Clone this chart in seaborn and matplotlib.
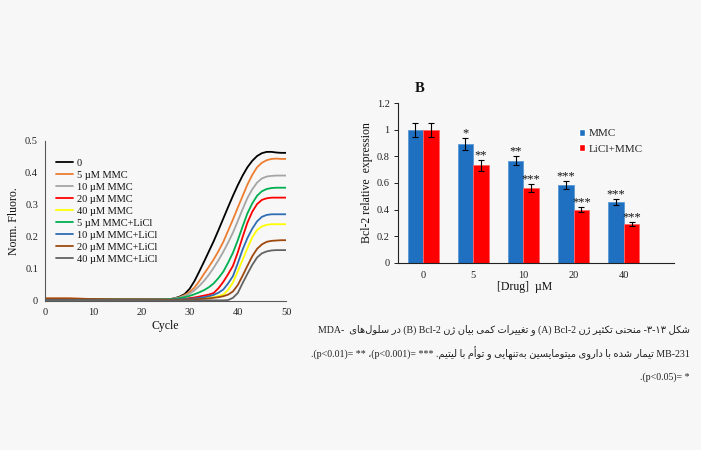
import matplotlib
matplotlib.use("Agg")
import matplotlib.pyplot as plt
import numpy as np
import pandas as pd
import seaborn as sns

# ---------------- data: panel A (amplification curves) ----------------
cycles = [0, 5, 10, 15, 20, 25, 26, 27, 28, 29, 30, 31, 32, 33, 34, 35, 36, 37, 38,
          39, 40, 41, 42, 43, 44, 45, 46, 47, 48, 49, 50]
fl_0 = [0.006, 0.005, 0.004, 0.004, 0.004, 0.005, 0.006, 0.009, 0.014, 0.022, 0.038, 0.062,
        0.092, 0.123, 0.155, 0.187, 0.222, 0.258, 0.294, 0.329, 0.362, 0.392, 0.418, 0.438,
        0.453, 0.462, 0.466, 0.466, 0.464, 0.463, 0.463]
fl_5mmc = [0.008, 0.008, 0.006, 0.005, 0.005, 0.005, 0.006, 0.008, 0.012, 0.019, 0.028, 0.042,
           0.062, 0.085, 0.107, 0.130, 0.156, 0.185, 0.220, 0.255, 0.292, 0.328, 0.364, 0.394,
           0.418, 0.432, 0.440, 0.444, 0.445, 0.444, 0.444]
fl_10mmc = [0.006, 0.006, 0.005, 0.005, 0.005, 0.005, 0.006, 0.008, 0.011, 0.016, 0.023, 0.033,
            0.047, 0.063, 0.082, 0.104, 0.128, 0.154, 0.183, 0.214, 0.250, 0.287, 0.322, 0.349,
            0.370, 0.383, 0.389, 0.391, 0.392, 0.392, 0.392]
fl_20mmc = [0.004, 0.004, 0.004, 0.004, 0.004, 0.004, 0.004, 0.005, 0.006, 0.007, 0.009, 0.011,
            0.014, 0.017, 0.020, 0.025, 0.040, 0.060, 0.084, 0.110, 0.152, 0.200, 0.245, 0.279,
            0.303, 0.316, 0.321, 0.323, 0.323, 0.323, 0.323]
fl_40mmc = [0.003, 0.003, 0.003, 0.003, 0.003, 0.003, 0.003, 0.003, 0.004, 0.004, 0.005, 0.006,
            0.007, 0.008, 0.010, 0.012, 0.015, 0.020, 0.035, 0.058, 0.093, 0.129, 0.165, 0.199,
            0.222, 0.233, 0.238, 0.240, 0.240, 0.240, 0.240]
fl_5licl = [0.005, 0.005, 0.005, 0.005, 0.005, 0.005, 0.006, 0.007, 0.009, 0.012, 0.016, 0.021,
            0.027, 0.034, 0.043, 0.055, 0.072, 0.092, 0.120, 0.151, 0.190, 0.233, 0.274, 0.305,
            0.329, 0.343, 0.350, 0.353, 0.354, 0.354, 0.354]
fl_10licl = [0.004, 0.004, 0.004, 0.004, 0.004, 0.004, 0.004, 0.005, 0.005, 0.006, 0.007, 0.008,
             0.010, 0.012, 0.015, 0.019, 0.026, 0.036, 0.055, 0.078, 0.118, 0.161, 0.197, 0.226,
             0.249, 0.263, 0.269, 0.271, 0.271, 0.271, 0.271]
fl_20licl = [0.008, 0.008, 0.006, 0.005, 0.005, 0.004, 0.004, 0.004, 0.004, 0.004, 0.005, 0.005,
             0.006, 0.007, 0.008, 0.010, 0.012, 0.015, 0.020, 0.030, 0.050, 0.079, 0.110, 0.140,
             0.163, 0.177, 0.185, 0.188, 0.189, 0.190, 0.190]
fl_40licl = [0.003, 0.003, 0.003, 0.003, 0.003, 0.002, 0.002, 0.002, 0.002, 0.002, 0.002, 0.002,
             0.002, 0.002, 0.002, 0.002, 0.002, 0.002, 0.003, 0.010, 0.025, 0.056, 0.085, 0.113,
             0.136, 0.149, 0.155, 0.158, 0.159, 0.159, 0.159]
curve_labels = ["0", "5 µM MMC", "10 µM MMC", "20 µM MMC", "40 µM MMC",
                "5 µM MMC+LiCl", "10 µM MMC+LiCl", "20 µM MMC+LiCl", "40 µM MMC+LiCl"]
curve_values = [fl_0, fl_5mmc, fl_10mmc, fl_20mmc, fl_40mmc,
                fl_5licl, fl_10licl, fl_20licl, fl_40licl]
curve_colors = ["#000000", "#ED7D31", "#A5A5A5", "#FF0000", "#FFFF00",
                "#00B050", "#2E6DB4", "#9E480E", "#636363"]
a_xticks = [0, 10, 20, 30, 40, 50]
a_yticks = [0, 0.1, 0.2, 0.3, 0.4, 0.5]

# ---------------- data: panel B (bar chart) ----------------
drugs = ["0", "5", "10", "20", "40"]
groups = ["MMC", "LiCl+MMC"]
mmc = [1.0, 0.895, 0.768, 0.587, 0.457]
licl_mmc = [1.0, 0.733, 0.565, 0.400, 0.295]
mmc_err = [0.05, 0.045, 0.035, 0.03, 0.025]
licl_err = [0.05, 0.04, 0.03, 0.02, 0.015]
mmc_sig = ["", "*", "**", "***", "***"]
licl_sig = ["", "**", "***", "***", "***"]
b_yticks = [0, 0.2, 0.4, 0.6, 0.8, 1.0, 1.2]
bar_colors = ["#1F70C1", "#FF0000"]
bar_edges = ["#5B9BD5", "#FF6666"]

# ---------------- caption (Persian, logical order) ----------------
cap_l1_a = "در سلول\u200cهای"
cap_l1_b = "و تغییرات کمی بیان ژن"
cap_l1_c = "منحنی تکثیر ژن"
cap_l1_d = "شکل"
cap_l1_num = "\u06F3-\u06F1\u06F3"
cap_l2_a = "تیمار شده با داروی میتومایسین به\u200cتنهایی و توأم با لیتیم"

FORMS = {
    'ا': ('\uFE8D', '\uFE8E', None, None),
    'أ': ('\uFE83', '\uFE84', None, None),
    'آ': ('\uFE81', '\uFE82', None, None),
    'ب': ('\uFE8F', '\uFE90', '\uFE91', '\uFE92'),
    'ت': ('\uFE95', '\uFE96', '\uFE97', '\uFE98'),
    'ث': ('\uFE99', '\uFE9A', '\uFE9B', '\uFE9C'),
    'ح': ('\uFEA1', '\uFEA2', '\uFEA3', '\uFEA4'),
    'د': ('\uFEA9', '\uFEAA', None, None),
    'ر': ('\uFEAD', '\uFEAE', None, None),
    'ز': ('\uFEAF', '\uFEB0', None, None),
    'ژ': ('\uFB8A', '\uFB8B', None, None),
    'س': ('\uFEB1', '\uFEB2', '\uFEB3', '\uFEB4'),
    'ش': ('\uFEB5', '\uFEB6', '\uFEB7', '\uFEB8'),
    'غ': ('\uFECD', '\uFECE', '\uFECF', '\uFED0'),
    'ل': ('\uFEDD', '\uFEDE', '\uFEDF', '\uFEE0'),
    'م': ('\uFEE1', '\uFEE2', '\uFEE3', '\uFEE4'),
    'ن': ('\uFEE5', '\uFEE6', '\uFEE7', '\uFEE8'),
    'ه': ('\uFEE9', '\uFEEA', '\uFEEB', '\uFEEC'),
    'و': ('\uFEED', '\uFEEE', None, None),
    'ی': ('\uFBFC', '\uFBFD', '\uFBFE', '\uFBFF'),
    'ک': ('\uFB8E', '\uFB8F', '\uFB90', '\uFB91'),
}


def shape_rtl(text):
    """Contextual shaping + visual (left-to-right) ordering of a Persian run."""
    chars = list(text)
    out = []
    for i, ch in enumerate(chars):
        if ch == '\u200c':
            continue
        if ch not in FORMS:
            out.append(ch)
            continue
        prev = chars[i - 1] if i > 0 else None
        nxt = chars[i + 1] if i + 1 < len(chars) else None
        join_prev = prev in FORMS and FORMS[prev][2] is not None
        join_next = FORMS[ch][2] is not None and nxt in FORMS
        iso, fin, ini, med = FORMS[ch]
        if join_prev and join_next:
            out.append(med)
        elif join_prev:
            out.append(fin)
        elif join_next:
            out.append(ini)
        else:
            out.append(iso)
    return ''.join(reversed(out))


# ---------------- figure ----------------
sns.set_theme(style="white")
plt.rcParams['font.family'] = ['Liberation Serif', 'DejaVu Sans']
plt.rcParams['mathtext.default'] = 'regular'
BG = "#F7F7F7"

fig = plt.figure(figsize=(7.01, 4.5), dpi=100, facecolor=BG)

# ---- panel A ----
axA = fig.add_axes([45 / 701, 1 - 301 / 450, 241 / 701, 160 / 450])
axA.set_facecolor(BG)
rows = []
for lab, vals in zip(curve_labels, curve_values):
    for c, v in zip(cycles, vals):
        rows.append((c, v, lab))
dfA = pd.DataFrame(rows, columns=["cycle", "fluoro", "sample"])
sns.lineplot(data=dfA, x="cycle", y="fluoro", hue="sample", hue_order=curve_labels,
             palette=curve_colors, linewidth=1.3, ax=axA, legend=True)
axA.set_xlim(0, 50)
axA.set_ylim(0, 0.5)
axA.set_xticks(a_xticks)
axA.set_yticks(a_yticks)
axA.set_xticklabels([str(t) for t in a_xticks])
axA.set_yticklabels([f"{t:g}" for t in a_yticks])
axA.tick_params(axis="both", length=0, labelsize=7.5, pad=5, colors="#222222")
for s in ["top", "right"]:
    axA.spines[s].set_visible(False)
for s in ["left", "bottom"]:
    axA.spines[s].set_color("#595959")
    axA.spines[s].set_linewidth(0.8)
axA.set_xlabel("Cycle", fontsize=8.5, color="#111111")
axA.set_ylabel("Norm. Fluoro.", fontsize=8.5, color="#111111")
axA.xaxis.set_label_coords(0.5, -0.12)
axA.yaxis.set_label_coords(-0.105, 0.5)
h, l = axA.get_legend_handles_labels()
legA = axA.legend(h, l, loc="upper left", bbox_to_anchor=(0.045, 0.89), frameon=False,
                  fontsize=7.5, handlelength=1.6, handletextpad=0.4, labelspacing=0.26,
                  borderpad=0, borderaxespad=0)
for t in legA.get_texts():
    t.set_color("#111111")

# ---- panel B ----
axB = fig.add_axes([398 / 701, 1 - 262.7 / 450, 276 / 701, 159.4 / 450])
axB.set_facecolor(BG)
rowsB = []
for d, v1, v2 in zip(drugs, mmc, licl_mmc):
    rowsB.append((d, groups[0], v1))
    rowsB.append((d, groups[1], v2))
dfB = pd.DataFrame(rowsB, columns=["drug", "group", "value"])
sns.barplot(data=dfB, x="drug", y="value", hue="group", order=drugs, hue_order=groups,
            palette=bar_colors, width=0.62, errorbar=None, saturation=1, ax=axB)
bar_containers = list(axB.containers)[:2]
errs = [mmc_err, licl_err]
sigs = [mmc_sig, licl_sig]
for k, cont in enumerate(bar_containers):
    for bar, e, sg in zip(cont, errs[k], sigs[k]):
        bar.set_edgecolor(bar_edges[k])
        bar.set_linewidth(0.6)
        xc = bar.get_x() + bar.get_width() / 2
        hgt = bar.get_height()
        axB.errorbar([xc], [hgt], yerr=[e], fmt="none", ecolor="black",
                     elinewidth=0.8, capsize=2.5, capthick=0.8)
        if sg:
            axB.text(xc, hgt + e - 0.012, sg, ha="center", va="bottom",
                     fontsize=9, color="#111111")
axB.set_xlim(-0.5, 5.0)
axB.set_ylim(0, 1.2)
axB.set_yticks(b_yticks)
axB.set_yticklabels([f"{t:g}" for t in b_yticks])
axB.tick_params(axis="y", length=3, width=0.7, direction="out", labelsize=7.5, pad=3,
                colors="#222222", left=True)
axB.tick_params(axis="x", length=0, labelsize=7.5, pad=6, colors="#222222")
for s in ["top", "right"]:
    axB.spines[s].set_visible(False)
for s in ["left", "bottom"]:
    axB.spines[s].set_color("#222222")
    axB.spines[s].set_linewidth(0.8)
axB.set_xlabel("[Drug]  µM", fontsize=8.5, color="#111111")
axB.set_ylabel("Bcl-2 relative  expression", fontsize=8.5, color="#111111")
axB.xaxis.set_label_coords(0.46, -0.115)
axB.yaxis.set_label_coords(-0.09, 0.5)
hb, lb = axB.get_legend_handles_labels()
legB = axB.legend(hb, lb, loc="upper left", bbox_to_anchor=(0.655, 0.84), frameon=False,
                  fontsize=8, handlelength=0.6, handleheight=0.6, handletextpad=0.3,
                  labelspacing=0.55, borderpad=0, borderaxespad=0)
fig.text(420 / 701, 1 - 88 / 450, "B", fontsize=10.5, fontweight="bold",
         ha="center", va="center", color="#111111")

# ---- caption ----
line1 = ("MDA-  " + shape_rtl(cap_l1_a) + " (B) Bcl-2 " + shape_rtl(cap_l1_b) +
         " (A) Bcl-2 " + shape_rtl(cap_l1_c) + " -" + cap_l1_num + " " + shape_rtl(cap_l1_d))
line2 = ".(p<0.01)= ** \u060C(p<0.001)= *** ." + shape_rtl(cap_l2_a) + " MB-231"
line3 = ".(p<0.05)= *"
cap_x = 690 / 701
for txt, ypx in [(line1, 330), (line2, 353), (line3, 377)]:
    fig.text(cap_x, 1 - ypx / 450, txt, ha="right", va="center", fontsize=7.1,
             color="#222222")

fig.savefig("out.png", dpi=100, facecolor=BG)
